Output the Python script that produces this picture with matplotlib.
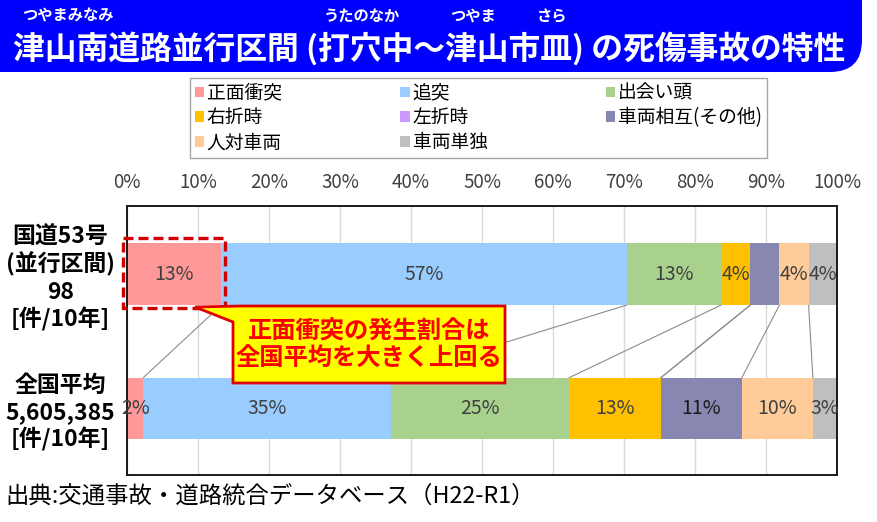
import numpy as np
import matplotlib.pyplot as plt
from matplotlib.patches import FancyBboxPatch, Polygon, Rectangle

plt.rcParams['font.family'] = ['Noto Sans CJK JP', 'DejaVu Sans']

# data (percent shares)
types = ['正面衝突', '追突', '出会い頭', '右折時', '左折時', '車両相互(その他)', '人対車両', '車両単独']
colors = ['#FF9999', '#99CCFF', '#A9D18E', '#FFC000', '#CC99FF', '#8787B2', '#FFCC99', '#BFBFBF']
rows = ['国道53号\n(並行区間)\n98\n[件/10年]', '全国平均\n5,605,385\n[件/10年]']
route53 = [13.3, 57.1, 13.3, 4.1, 0.0, 4.1, 4.1, 4.1]
national = [2.3, 34.9, 25.1, 12.9, 0.0, 11.4, 10.0, 3.4]
route53_labels = ['13%', '57%', '13%', '4%', '', '', '4%', '4%']
national_labels = ['2%', '35%', '25%', '13%', '', '11%', '10%', '3%']
xticks = np.arange(0, 101, 10)

W, H = 878, 522
fig = plt.figure(figsize=(W / 100, H / 100), dpi=100)
ax = fig.add_axes([127 / W, 1 - 475 / H, 710 / W, 269 / H])

vals = np.array([route53, national])
labels = [route53_labels, national_labels]
ypos = np.arange(len(rows))
bh = 0.46
left = np.zeros(len(rows))
handles = []
for i, name in enumerate(types):
    bars = ax.barh(ypos, vals[:, i], left=left, height=bh, color=colors[i],
                   label=name, zorder=2)
    handles.append(bars)
    for j, b in enumerate(bars):
        txt = labels[j][i]
        if txt:
            c = '#1A1A1A' if txt == '11%' and j == 1 else '#404040'
            ax.text(b.get_x() + b.get_width() / 2, b.get_y() + bh / 2, txt,
                    ha='center', va='center', fontsize=14, color=c, zorder=3)
    left = left + vals[:, i]

# series lines between the two bars
cum = np.cumsum(vals, axis=1)
for k in range(len(types) - 1):
    if vals[0, k + 1:].sum() == 0:
        continue
    ax.plot([cum[0, k], cum[1, k]], [ypos[0] + bh / 2, ypos[1] - bh / 2],
            color='#8C8C8C', lw=0.8, zorder=1)

ax.set_xlim(0, 100)
ax.set_ylim(1.494, -0.506)
ax.set_xticks(xticks, labels=[f'{t}%' for t in xticks])
ax.xaxis.tick_top()
ax.tick_params(axis='x', length=0, pad=9, labelsize=13.5, labelcolor='#404040')
ax.set_yticks(ypos, labels=rows)
ax.tick_params(axis='y', length=0, pad=48)
for lab in ax.get_yticklabels():
    lab.set_ha('center')
    lab.set_fontsize(16.5)
    lab.set_fontweight('bold')
    lab.set_linespacing(1.2)
ax.grid(axis='x', color='#D9D9D9', lw=1, zorder=0)
ax.set_axisbelow(True)
for s in ax.spines.values():
    s.set_color('#1A1A1A')
    s.set_linewidth(1.4)

# dashed highlight around 正面衝突 of route 53
ax.add_patch(Rectangle((-0.55, -0.27), route53[0] + 1.0, 0.52, fill=False,
                       ec='#D00000', lw=2.4, ls=(0, (3, 1.5)), zorder=4, clip_on=False))

order = [0, 3, 6, 1, 4, 7, 2, 5]
fig.legend([handles[i] for i in order], [types[i] for i in order],
           loc='upper left', bbox_to_anchor=(190 / W, 1 - 157 / H, 577 / W, 79 / H),
           mode='expand', ncol=3, fontsize=13.5, frameon=True, fancybox=False,
           edgecolor='#A6A6A6', framealpha=1, borderpad=0.25, labelspacing=0.2,
           handlelength=0.5, handleheight=0.5, handletextpad=0.15, borderaxespad=0)

# overlay in pixel coordinates for the banner, callout and source
ov = fig.add_axes([0, 0, 1, 1], zorder=5)
ov.set_xlim(0, W)
ov.set_ylim(H, 0)
ov.axis('off')
ov.patch.set_alpha(0)

ov.add_patch(FancyBboxPatch((-40, -40), 902, 112, boxstyle='round,pad=0,rounding_size=32',
                            fc='#0000FF', ec='none'))
ov.text(13, 49, '津山南道路並行区間 (打穴中～津山市皿) の死傷事故の特性', color='white',
        fontsize=22.9, fontweight='bold', va='center', ha='left')
for t, x in [('つやまみなみ', 68), ('うたのなか', 362), ('つやま', 473), ('さら', 552)]:
    ov.text(x, 16, t, color='white', fontsize=11, fontweight='bold', ha='center', va='center')

ov.add_patch(Polygon([(195, 307), (242, 306), (505, 306), (505, 383), (233, 383), (233, 322)],
                     closed=True, fc='#FFFF00', ec='#E00000', lw=2, joinstyle='miter'))
ov.text(369, 345, '正面衝突の発生割合は\n全国平均を大きく上回る', color='#FF0000',
        fontsize=17.5, fontweight='bold', ha='center', va='center', linespacing=1.18)

ov.text(5, 497, '出典:交通事故・道路統合データベース（H22-R1）', fontsize=16.8,
        ha='left', va='center', color='black')

fig.savefig('out.png', dpi=100)
